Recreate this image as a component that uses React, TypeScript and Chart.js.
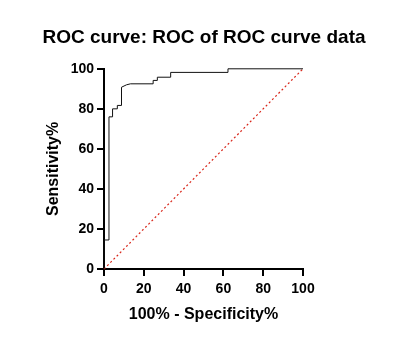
import React, { useEffect, useRef } from "react";
import { Chart, registerables } from "chart.js";

Chart.register(...registerables);

const chartTitle = "ROC curve: ROC of ROC curve data";
const xTitle = "100% - Specificity%";
const yTitle = "Sensitivity%";

// ROC curve points (100% - Specificity%, Sensitivity%)
const fprValues = [0, 0, 2.5, 2.5, 4.3, 4.3, 6.7, 6.7, 8.8, 8.8, 11.3, 13.3, 24.7, 24.7, 26.8, 26.8, 33.5, 33.5, 62.3, 62.3, 100];
const tprValues = [0, 14.5, 14.5, 76, 76, 80, 80, 81.7, 81.7, 90.8, 92, 92.5, 92.5, 94.2, 94.2, 95.8, 95.8, 98.2, 98.2, 100, 100];

// Reference diagonal
const diagX = [0, 100];
const diagY = [0, 100];

const FONT = "'Liberation Sans', Arial, sans-serif";

export default function App() {
  const ref = useRef<HTMLCanvasElement | null>(null);

  useEffect(() => {
    if (!ref.current) return;
    const chart = new Chart(ref.current, {
      type: "line",
      data: {
        datasets: [
          {
            data: fprValues.map((x, i) => ({ x, y: tprValues[i] })),
            borderColor: "#111",
            borderWidth: 1,
            pointRadius: 0,
            tension: 0,
            fill: false,
            clip: false,
          } as any,
          {
            data: diagX.map((x, i) => ({ x, y: diagY[i] })),
            borderColor: "#d8261a",
            borderWidth: 1.2,
            borderDash: [2, 2.5],
            pointRadius: 0,
            tension: 0,
            fill: false,
            clip: false,
          } as any,
        ],
      },
      options: {
        animation: false,
        responsive: false,
        layout: { padding: { left: 0, right: 8, top: 0, bottom: 0 } },
        plugins: {
          legend: { display: false },
          tooltip: { enabled: false },
          title: {
            display: true,
            text: chartTitle,
            color: "#000",
            font: { family: FONT, size: 19, weight: "bold" },
            padding: { top: 26, bottom: 20 },
          },
        },
        scales: {
          x: {
            type: "linear",
            min: 0,
            max: 100,
            afterFit: (s: any) => {
              s.height = 85;
            },
            ticks: {
              stepSize: 20,
              color: "#000",
              padding: 5,
              font: { family: FONT, size: 14, weight: "bold" },
            },
            grid: {
              display: true,
              drawOnChartArea: false,
              drawTicks: true,
              tickLength: 7,
              lineWidth: 2,
              color: "#000",
            },
            border: { display: true, color: "#000", width: 2 },
            title: {
              display: true,
              text: xTitle,
              color: "#000",
              font: { family: FONT, size: 16, weight: "bold" },
              padding: { top: 0, bottom: 30 },
            },
          },
          y: {
            type: "linear",
            min: 0,
            max: 100,
            afterFit: (s: any) => {
              s.width = 104;
            },
            ticks: {
              stepSize: 20,
              color: "#000",
              padding: 3,
              font: { family: FONT, size: 14, weight: "bold" },
            },
            grid: {
              display: true,
              drawOnChartArea: false,
              drawTicks: true,
              tickLength: 7,
              lineWidth: 2,
              color: "#000",
            },
            border: { display: true, color: "#000", width: 2 },
            title: {
              display: true,
              text: yTitle,
              color: "#000",
              font: { family: FONT, size: 16, weight: "bold" },
              padding: { top: 44, bottom: 0 },
            },
          },
          yRight: {
            type: "linear",
            position: "right",
            display: true,
            min: 0,
            max: 100,
            afterFit: (s: any) => {
              s.width = 105;
            },
            ticks: { display: false },
            grid: { display: false },
            border: { display: false },
          },
        },
      },
    });
    return () => chart.destroy();
  }, []);

  return (
    <div style={{ position: "fixed", left: 0, top: 0, width: 416, height: 354, background: "#fff" }}>
      <canvas ref={ref} width={416} height={354} style={{ width: 416, height: 354 }} />
    </div>
  );
}
